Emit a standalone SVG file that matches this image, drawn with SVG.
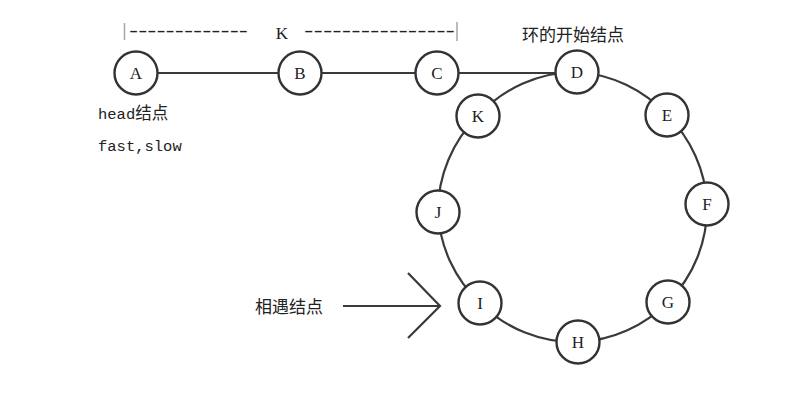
<svg xmlns="http://www.w3.org/2000/svg" width="800" height="410" viewBox="0 0 800 410">
<style>
.node circle{fill:#fff;stroke:#333;stroke-width:2.4}
.node text{font-family:"Liberation Serif",serif;font-size:17px;fill:#222;text-anchor:middle}
.edge{fill:none;stroke:#3a3a3a;stroke-width:2.2}
.lbl{font-family:"Liberation Mono","Noto Sans CJK SC",monospace;font-size:15.5px;fill:#222}
.cjk{font-family:"Noto Sans CJK SC",sans-serif;font-size:17px;fill:#222}
.dash{font-family:"Liberation Sans",sans-serif;font-size:18px;fill:#222}
.bar{stroke:#aaa;stroke-width:1.6}
</style>
<rect width="800" height="410" fill="#fff"/>
<g id="connectors">
<path class="edge" d="M136,73 H577"/>
<path class="edge" d="M577,72 A134,134 0 0 1 667,115 A134,134 0 0 1 707,204 A134,134 0 0 1 668,302 A134,134 0 0 1 578,342 A134,134 0 0 1 480,303 A134,134 0 0 1 438,212 A134,134 0 0 1 478,116 A134,134 0 0 1 577,72"/>
<g id="meet-arrow">
<path class="edge" d="M343,306 H440"/>
<path class="edge" d="M408,273 L440,306 L408,338"/>
</g>
</g>
<g id="k-span">
<line class="bar" x1="124.5" y1="23" x2="124.5" y2="40"/>
<line class="bar" x1="457" y1="22" x2="457" y2="41"/>
<text class="dash" x="129" y="37" textLength="119" lengthAdjust="spacingAndGlyphs">-------------</text>
<text x="282" y="39" style="font-family:'Liberation Serif',serif;font-size:17px;fill:#222" text-anchor="middle">K</text>
<text class="dash" x="304" y="37" textLength="151" lengthAdjust="spacingAndGlyphs">----------------</text>
</g>
<g id="node-A" class="node"><circle cx="136" cy="73" r="21.5"/><text x="136" y="79">A</text></g>
<g id="node-B" class="node"><circle cx="300" cy="73" r="21.5"/><text x="300" y="79">B</text></g>
<g id="node-C" class="node"><circle cx="437" cy="73" r="21.5"/><text x="437" y="79">C</text></g>
<g id="node-D" class="node"><circle cx="577" cy="72" r="21.5"/><text x="577" y="78">D</text></g>
<g id="node-E" class="node"><circle cx="667" cy="115" r="21.5"/><text x="667" y="121">E</text></g>
<g id="node-F" class="node"><circle cx="707" cy="204" r="21.5"/><text x="707" y="210">F</text></g>
<g id="node-G" class="node"><circle cx="668" cy="302" r="21.5"/><text x="668" y="308">G</text></g>
<g id="node-H" class="node"><circle cx="578" cy="342" r="21.5"/><text x="578" y="348">H</text></g>
<g id="node-I" class="node"><circle cx="480" cy="303" r="21.5"/><text x="480" y="309">I</text></g>
<g id="node-J" class="node"><circle cx="438" cy="212" r="21.5"/><text x="438" y="218">J</text></g>
<g id="node-K" class="node"><circle cx="478" cy="116" r="21.5"/><text x="478" y="122">K</text></g>
<g id="labels">
<text class="lbl" x="98" y="119">head<tspan style="font-family:'Noto Sans CJK SC',sans-serif;font-size:16.5px">结点</tspan></text>
<text class="lbl" x="98" y="151">fast,slow</text>
<text class="cjk" x="522" y="41">环的开始结点</text>
<text class="cjk" x="255" y="313">相遇结点</text>
</g>
</svg>
